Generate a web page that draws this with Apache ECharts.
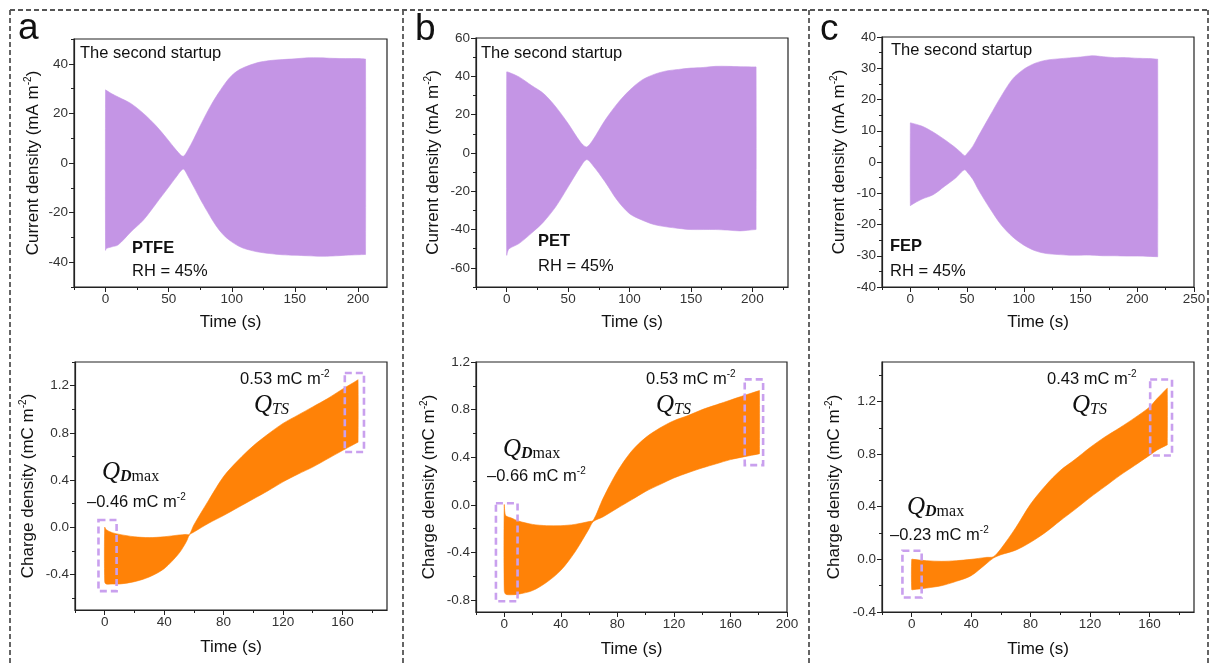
<!DOCTYPE html>
<html>
<head>
<meta charset="utf-8">
<script src="https://cdn.jsdelivr.net/npm/echarts@6/dist/echarts.min.js"></script>
<style>
  html, body { margin: 0; padding: 0; background: #fff; }
  #chart { width: 1211px; height: 666px; }
</style>
</head>
<body>
<div id="chart"></div>
<script>
// ---- Current density envelopes, second startup (mA m^-2) ----
const timeCurPTFE = [0, 0.5, 5, 10, 20, 30, 40, 50, 55, 60, 62, 65, 70, 75, 80, 85, 90, 95, 100, 105, 110, 120, 130, 140, 150, 160, 170, 180, 190, 200, 205.5, 206];
const upperCurPTFE = [29.5, 29.3, 27.9, 26.6, 24, 20, 15, 9, 5.8, 3, 2.8, 5, 9.8, 15, 20, 24.6, 28.6, 32.3, 35.3, 37.3, 38.6, 40.4, 41.3, 41.7, 42, 42.4, 42.4, 42.2, 42.1, 42.1, 41.9, 41.9];
const lowerCurPTFE = [-35.2, -34.5, -33.8, -33, -27.8, -23, -16.4, -9.7, -6.3, -3, -2.5, -5, -9.7, -14.5, -19, -23.3, -27, -29.8, -31.8, -33.4, -34.5, -35.8, -36.5, -37, -37.2, -37.4, -37.6, -37.5, -37.2, -37, -36.9, -36.9];

const timeCurPET = [0, 0.5, 2, 10, 20, 30, 40, 50, 60, 65, 70, 80, 90, 100, 110, 120, 130, 140, 150, 160, 170, 180, 190, 202.5, 203];
const upperCurPET = [42.3, 42.3, 42, 39.7, 35.3, 31, 24, 15.3, 5.7, 3.1, 6.6, 17, 25.7, 32.7, 38, 41, 42.8, 43.6, 44.3, 44.6, 45.2, 45.2, 45, 44.9, 44.9];
const lowerCurPET = [-53.4, -52, -50, -47.3, -42, -36, -28, -17.7, -7.3, -3.5, -6.4, -15, -24.7, -31.7, -35, -37.4, -38.6, -39.4, -40, -40, -40, -40.3, -40.7, -40, -40];

const timeCurFEP = [0, 0.5, 10, 20, 30, 40, 45, 48, 50, 55, 60, 70, 80, 90, 100, 110, 120, 130, 140, 150, 160, 170, 180, 190, 200, 210, 217.5, 218];
const upperCurFEP = [12.5, 12.5, 11.5, 9.6, 7.2, 4.5, 2.9, 2, 2.7, 5, 8.3, 14.7, 21, 26.5, 29.7, 31.6, 32.6, 33, 33.3, 33.6, 34, 33.7, 33.4, 33.4, 33.2, 33.1, 32.9, 32.9];
const lowerCurFEP = [-14, -13.8, -11.9, -10.5, -7.8, -5.1, -3.2, -2.5, -3.2, -5.5, -8.9, -14.8, -20.1, -23.9, -26.6, -28.4, -29.3, -29.6, -29.8, -29.8, -29.8, -30, -30, -30.1, -30.1, -30.2, -30.3, -30.3];

// ---- Transferred charge density envelopes (mC m^-2) ----
const timeQPTFE = [0, 1, 5, 10, 20, 30, 40, 50, 55, 57, 60, 70, 80, 90, 100, 110, 120, 130, 140, 150, 160, 170, 170.5];
const upperQPTFE = [0, -0.02, -0.045, -0.06, -0.08, -0.087, -0.08, -0.065, -0.06, -0.06, 0.02, 0.23, 0.43, 0.57, 0.69, 0.79, 0.88, 0.95, 1.02, 1.09, 1.17, 1.245, 1.25];
const lowerQPTFE = [-0.46, -0.48, -0.48, -0.48, -0.46, -0.42, -0.35, -0.22, -0.12, -0.065, -0.04, 0.035, 0.10, 0.17, 0.24, 0.31, 0.385, 0.45, 0.51, 0.58, 0.65, 0.718, 0.72];

const timeQPET = [0, 1, 5, 10, 20, 30, 40, 50, 60, 63, 70, 80, 90, 100, 110, 120, 130, 140, 150, 160, 170, 180, 180.5];
const upperQPET = [0, -0.09, -0.11, -0.136, -0.164, -0.175, -0.175, -0.164, -0.14, -0.13, 0.057, 0.28, 0.45, 0.565, 0.645, 0.707, 0.75, 0.8, 0.84, 0.88, 0.92, 0.958, 0.96];
const lowerQPET = [-0.72, -0.75, -0.755, -0.75, -0.72, -0.65, -0.55, -0.396, -0.2, -0.14, -0.1, -0.028, 0.042, 0.113, 0.17, 0.226, 0.27, 0.31, 0.345, 0.38, 0.405, 0.428, 0.43];

const timeQFEP = [0, 1, 5, 10, 20, 30, 40, 50, 55, 60, 70, 80, 90, 100, 110, 120, 130, 140, 150, 160, 165, 171.5, 172];
const upperQFEP = [0, 0, -0.005, -0.01, -0.015, -0.01, 0, 0.015, 0.02, 0.08, 0.24, 0.42, 0.56, 0.675, 0.76, 0.85, 0.93, 1.0, 1.075, 1.157, 1.22, 1.295, 1.30];
const lowerQFEP = [-0.23, -0.23, -0.225, -0.218, -0.2, -0.167, -0.124, -0.035, 0.01, 0.035, 0.07, 0.13, 0.205, 0.294, 0.38, 0.47, 0.553, 0.637, 0.713, 0.79, 0.83, 0.868, 0.87];

// ---- Highlight boxes [t0, t1, q0, q1] around Q_Dmax and Q_TS ----
const boxesPTFE = [[-4.2, 8, -0.54, 0.062], [161.6, 174.5, 0.638, 1.307]];
const boxesPET = [[-5.9, 9.4, -0.81, 0.014], [170.1, 183.1, 0.334, 1.054]];
const boxesFEP = [[-6.25, 6.7, -0.29, 0.066], [160.5, 175.2, 0.789, 1.367]];

// ---- Tick labels ----
const xTicksCurAB = [0, 50, 100, 150, 200];
const xTicksCurC = [0, 50, 100, 150, 200, 250];
const xTicksQAC = [0, 40, 80, 120, 160];
const xTicksQB = [0, 40, 80, 120, 160, 200];
const yTicksCurA = [-40, -20, 0, 20, 40];
const yTicksCurB = [-60, -40, -20, 0, 20, 40, 60];
const yTicksCurC = [-40, -30, -20, -10, 0, 10, 20, 30, 40];
const yTicksQA = [-0.4, 0, 0.4, 0.8, 1.2];
const yTicksQB = [-0.8, -0.4, 0, 0.4, 0.8, 1.2];
const yTicksQC = [-0.4, 0, 0.4, 0.8, 1.2];

const FONT = 'Liberation Sans, Arial, sans-serif';
const SERIF = 'Liberation Serif, DejaVu Serif, serif';
const PURPLE = '#C495E5';
const ORANGE = '#FF8207';
const BOX = '#C9A0EE';
const INK = '#222';

// minor ticks sit halfway between labelled ticks, across the whole axis range
function minorTicks(major, min, max) {
  const step = major[1] - major[0];
  const out = [];
  for (let v = major[0] - step / 2; v <= max + 1e-9; v += step / 2) {
    const r = Math.round(v * 1000) / 1000;
    if (r >= min - 1e-9) out.push(r);
  }
  return out;
}

const panels = [
  { rect: [74, 39, 313, 248], x: [-25, 223], y: [-50, 50], xt: xTicksCurAB, yt: yTicksCurA, t: timeCurPTFE, up: upperCurPTFE, lo: lowerCurPTFE, color: PURPLE, yName: 'Current density (mA m', yGap: 31, xGap: 27, dec: 0 },
  { rect: [476, 38, 312, 249], x: [-25, 229], y: [-70, 60], xt: xTicksCurAB, yt: yTicksCurB, t: timeCurPET, up: upperCurPET, lo: lowerCurPET, color: PURPLE, yName: 'Current density (mA m', yGap: 33, xGap: 27, dec: 0 },
  { rect: [882, 37, 312, 250], x: [-25, 250], y: [-40, 40], xt: xTicksCurC, yt: yTicksCurC, t: timeCurFEP, up: upperCurFEP, lo: lowerCurFEP, color: PURPLE, yName: 'Current density (mA m', yGap: 33, xGap: 27, dec: 0 },
  { rect: [75, 362, 312, 248], x: [-20, 190], y: [-0.7, 1.4], xt: xTicksQAC, yt: yTicksQA, t: timeQPTFE, up: upperQPTFE, lo: lowerQPTFE, color: ORANGE, yName: 'Charge density (mC m', yGap: 37, xGap: 29, dec: 1, boxes: boxesPTFE },
  { rect: [476, 362, 311, 250], x: [-20, 200], y: [-0.9, 1.2], xt: xTicksQB, yt: yTicksQB, t: timeQPET, up: upperQPET, lo: lowerQPET, color: ORANGE, yName: 'Charge density (mC m', yGap: 37, xGap: 29, dec: 1, boxes: boxesPET },
  { rect: [882, 362, 312, 250], x: [-20, 190], y: [-0.4, 1.5], xt: xTicksQAC, yt: yTicksQC, t: timeQFEP, up: upperQFEP, lo: lowerQFEP, color: ORANGE, yName: 'Charge density (mC m', yGap: 38, xGap: 29, dec: 1, boxes: boxesFEP }
];

const grid = [], xAxis = [], yAxis = [], series = [];
const axisLine = { show: true, onZero: false, lineStyle: { color: INK, width: 1.2 } };
const hiddenLine = { show: false, onZero: false };
const tickStyle = { color: INK, width: 1 };

panels.forEach((p, i) => {
  grid.push({
    left: p.rect[0], top: p.rect[1], width: p.rect[2], height: p.rect[3],
    show: true, borderColor: INK, borderWidth: 1.2, backgroundColor: 'transparent'
  });
  // labelled x axis
  xAxis.push({
    type: 'value', gridIndex: i, min: p.x[0], max: p.x[1], position: 'bottom',
    axisLine: axisLine,
    axisTick: { show: true, customValues: p.xt, length: 5, lineStyle: tickStyle },
    axisLabel: { customValues: p.xt, margin: 5, fontSize: 13.5, color: '#333', fontFamily: FONT },
    splitLine: { show: false },
    name: 'Time (s)', nameLocation: 'middle', nameGap: p.xGap,
    nameTextStyle: { fontSize: 17, color: '#111', fontFamily: FONT }
  });
  // minor x ticks
  xAxis.push({
    type: 'value', gridIndex: i, min: p.x[0], max: p.x[1], position: 'bottom',
    axisLine: hiddenLine,
    axisTick: { show: true, customValues: minorTicks(p.xt, p.x[0], p.x[1]), length: 3, lineStyle: tickStyle },
    axisLabel: { show: false }, splitLine: { show: false }
  });
  // labelled y axis
  yAxis.push({
    type: 'value', gridIndex: i, min: p.y[0], max: p.y[1], position: 'left',
    axisLine: axisLine,
    axisTick: { show: true, customValues: p.yt, length: 5, lineStyle: tickStyle },
    axisLabel: {
      customValues: p.yt, margin: 6, fontSize: 13.5, color: '#333', fontFamily: FONT,
      formatter: v => p.dec ? Number(v).toFixed(p.dec) : String(v)
    },
    splitLine: { show: false },
    name: '{n|' + p.yName + '}{s|-2}{n|)}', nameLocation: 'middle', nameRotate: 90, nameGap: p.yGap,
    nameTextStyle: {
      rich: {
        n: { fontSize: 17, color: '#111', fontFamily: FONT, lineHeight: 20 },
        s: { fontSize: 10, color: '#111', fontFamily: FONT, lineHeight: 20, verticalAlign: 'top', padding: [0, 0, 8, 0] }
      }
    }
  });
  // minor y ticks
  yAxis.push({
    type: 'value', gridIndex: i, min: p.y[0], max: p.y[1], position: 'left',
    axisLine: hiddenLine,
    axisTick: { show: true, customValues: minorTicks(p.yt, p.y[0], p.y[1]), length: 3, lineStyle: tickStyle },
    axisLabel: { show: false }, splitLine: { show: false }
  });

  // filled envelope of the densely oscillating signal
  series.push({
    type: 'custom', xAxisIndex: 2 * i, yAxisIndex: 2 * i, silent: true, clip: true,
    data: [[p.t[0], p.up[0]]],
    renderItem: (params, api) => {
      const pts = [];
      for (let k = 0; k < p.t.length; k++) pts.push(api.coord([p.t[k], p.up[k]]));
      for (let k = p.t.length - 1; k >= 0; k--) pts.push(api.coord([p.t[k], p.lo[k]]));
      return { type: 'polygon', shape: { points: pts, smooth: 0.3 }, style: { fill: p.color, stroke: p.color, lineWidth: 0.6 } };
    }
  });

  // dashed highlight boxes
  if (p.boxes) {
    series.push({
      type: 'custom', xAxisIndex: 2 * i, yAxisIndex: 2 * i, silent: true, clip: false, z: 5,
      data: p.boxes,
      renderItem: (params, api) => {
        const a = api.coord([api.value(0), api.value(3)]);
        const b = api.coord([api.value(1), api.value(2)]);
        return {
          type: 'rect',
          shape: { x: a[0], y: a[1], width: b[0] - a[0], height: b[1] - a[1] },
          style: { fill: null, stroke: BOX, lineWidth: 2.6, lineDash: [7, 4] }
        };
      }
    });
  }
});

// text helpers
function txt(x, y, text, size, extra) {
  return {
    type: 'text', x: x, y: y, z: 100,
    style: Object.assign({ text: text, fontSize: size, fontFamily: FONT, fill: '#111', align: 'left', verticalAlign: 'middle' }, (extra || {}))
  };
}
function charge(x, y, value) {
  return {
    type: 'text', x: x, y: y, z: 100,
    style: {
      text: '{n|' + value + ' mC m}{s|-2}', align: 'left', verticalAlign: 'middle',
      rich: {
        n: { fontSize: 16.5, fontFamily: FONT, fill: '#111', lineHeight: 20 },
        s: { fontSize: 10, fontFamily: FONT, fill: '#111', lineHeight: 20, verticalAlign: 'top', padding: [0, 0, 8, 0] }
      }
    }
  };
}
const qMain = { fontSize: 25, fontFamily: SERIF, fontStyle: 'italic', fill: '#111', lineHeight: 26 };
const qSub = { fontSize: 16, fontFamily: SERIF, fontStyle: 'italic', fill: '#111', lineHeight: 26, verticalAlign: 'bottom', padding: [5, 0, 0, 0] };
function qts(x, y) {
  return {
    type: 'text', x: x, y: y, z: 100,
    style: { text: '{q|Q}{s|TS}', align: 'left', verticalAlign: 'middle', rich: { q: qMain, s: qSub } }
  };
}
function qd(x, y) {
  return {
    type: 'text', x: x, y: y, z: 100,
    style: {
      text: '{q|Q}{d|D}{m|max}', align: 'left', verticalAlign: 'middle',
      rich: { q: qMain, d: Object.assign({}, qSub, { fontWeight: 'bold' }), m: Object.assign({}, qSub, { fontStyle: 'normal' }) }
    }
  };
}
function dashLine(x1, y1, x2, y2) {
  return { type: 'line', z: 50, shape: { x1: x1, y1: y1, x2: x2, y2: y2 }, style: { stroke: '#555', lineWidth: 1.8, lineDash: [5, 3] } };
}

const graphic = [
  // panel frames
  dashLine(10, 10, 1208, 10),
  dashLine(10, 10, 10, 666),
  dashLine(403, 10, 403, 666),
  dashLine(809, 10, 809, 666),
  dashLine(1208, 10, 1208, 666),
  // panel letters
  txt(18, 29, 'a', 37),
  txt(415, 30, 'b', 37),
  txt(820, 30, 'c', 37),
  // current density notes
  txt(80, 53, 'The second startup', 16.5),
  txt(481, 53, 'The second startup', 16.5),
  txt(891, 50, 'The second startup', 16.5),
  txt(132, 248.5, 'PTFE', 16.5, { fontWeight: 'bold' }),
  txt(132, 271.5, 'RH = 45%', 16.5),
  txt(538, 241.5, 'PET', 16.5, { fontWeight: 'bold' }),
  txt(538, 266.5, 'RH = 45%', 16.5),
  txt(890, 246.5, 'FEP', 16.5, { fontWeight: 'bold' }),
  txt(890, 271.5, 'RH = 45%', 16.5),
  // charge annotations
  charge(240, 379.5, '0.53'), qts(254, 405),
  qd(102, 472), charge(87, 502, '\u20130.46'),
  charge(646, 379, '0.53'), qts(656, 405),
  qd(503, 449), charge(487, 476, '\u20130.66'),
  charge(1047, 379.5, '0.43'), qts(1072, 405),
  qd(907, 507), charge(890, 535, '\u20130.23')
];

const chart = echarts.init(document.getElementById('chart'), null, { renderer: 'canvas' });
chart.setOption({
  backgroundColor: '#fff',
  animation: false,
  grid: grid,
  xAxis: xAxis,
  yAxis: yAxis,
  series: series,
  graphic: graphic
});
</script>
</body>
</html>
